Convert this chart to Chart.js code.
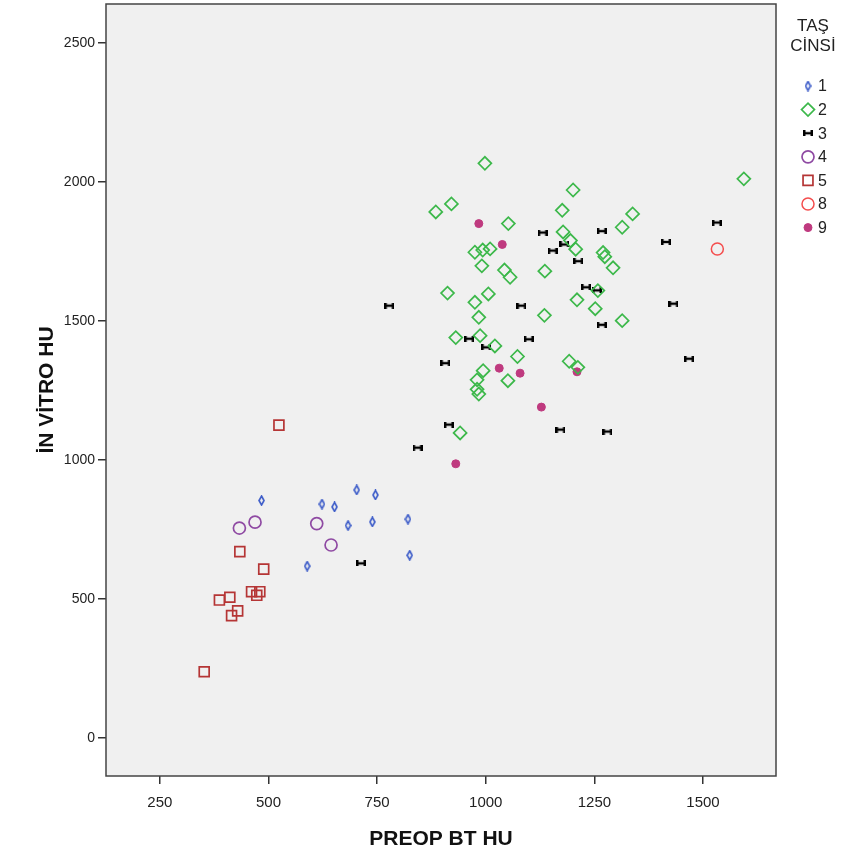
<!DOCTYPE html>
<html>
<head>
<meta charset="utf-8">
<script src="https://cdn.jsdelivr.net/npm/chart.js@4.4.1/dist/chart.umd.min.js"></script>
<style>
  html, body { margin: 0; background: #fff; }
  #wrap { width: 847px; height: 862px; }
</style>
</head>
<body>
<div id="wrap"><canvas id="c"></canvas></div>
<script>
// TAŞ CİNSİ groups
const groupLabels = ['1', '2', '3', '4', '5', '8', '9'];
const xTicks = [250, 500, 750, 1000, 1250, 1500];
const yTicks = [0, 500, 1000, 1500, 2000, 2500];

const g1x = [484, 623, 652, 703, 746, 683, 739, 821, 825, 589];
const g1y = [854, 841, 831, 892, 874, 764, 777, 787, 657, 618];

const g2x = [998, 885, 921, 1201, 1594, 1176, 1338, 1314, 1052, 1178, 1195, 1207, 975, 993, 1010,
             991, 1270, 1274, 1293, 1043, 1056, 1136, 912, 1006, 975, 984, 1135, 1210, 1252, 1258,
             1314, 931, 987, 1021, 1073, 994, 980, 980, 984, 1051, 1192, 1212, 941];
const g2y = [2067, 1892, 1921, 1971, 2011, 1898, 1885, 1837, 1850, 1820, 1789, 1758, 1747, 1755, 1759,
             1698, 1746, 1731, 1691, 1683, 1657, 1679, 1600, 1597, 1567, 1513, 1520, 1576, 1544, 1609,
             1501, 1440, 1447, 1410, 1372, 1321, 1288, 1254, 1237, 1285, 1355, 1333, 1097];

const g3x = [1131, 1267, 1532, 1415, 1154, 1181, 1213, 1231, 1256, 1432, 1082, 1267, 962, 1001, 1099,
             907, 1468, 915, 1172, 1280, 843, 778, 713];
const g3y = [1818, 1823, 1854, 1784, 1753, 1775, 1715, 1621, 1610, 1562, 1555, 1486, 1436, 1405, 1434,
             1348, 1364, 1127, 1109, 1102, 1044, 1555, 628];

const g4x = [433, 469, 611, 644];
const g4y = [755, 776, 771, 694];

const g5x = [434, 489, 461, 480, 473, 411, 387, 429, 415, 352, 524];
const g5y = [670, 607, 526, 526, 513, 506, 496, 457, 440, 238, 1125];

const g8x = [1533];
const g8y = [1759];

const g9x = [984, 1038, 1031, 1079, 1210, 1128, 931];
const g9y = [1850, 1775, 1330, 1312, 1317, 1190, 986];

function pts(xs, ys) { return xs.map((x, i) => ({ x: x, y: ys[i] })); }

// thin vertical diamond for group 1
function thinDiamond(color) {
  const cv = document.createElement('canvas');
  cv.width = 7; cv.height = 11;
  const c = cv.getContext('2d');
  c.strokeStyle = color; c.lineWidth = 1.6;
  c.beginPath();
  c.moveTo(3.5, 1); c.lineTo(6, 5.5); c.lineTo(3.5, 10); c.lineTo(1, 5.5); c.closePath();
  c.stroke();
  return cv;
}
// dumbbell marker for group 3
function bowtie(color) {
  const cv = document.createElement('canvas');
  cv.width = 10; cv.height = 6;
  const c = cv.getContext('2d');
  c.fillStyle = color;
  c.fillRect(0, 0, 2.5, 6);
  c.fillRect(7.5, 0, 2.5, 6);
  c.fillRect(2, 1.8, 6, 2.4);
  return cv;
}

const colors = ['#3a5ac8', '#3cb84a', '#000000', '#8f4aa3', '#b53535', '#f44d4d', '#bf3a7f'];

const datasets = [
  { label: groupLabels[0], data: pts(g1x, g1y), pointStyle: thinDiamond(colors[0]), pointRadius: 5,
    borderColor: colors[0], backgroundColor: colors[0] },
  { label: groupLabels[1], data: pts(g2x, g2y), pointStyle: 'rectRot', pointRadius: 6.5, borderWidth: 1.7,
    borderColor: colors[1], backgroundColor: 'rgba(0,0,0,0)' },
  { label: groupLabels[2], data: pts(g3x, g3y), pointStyle: bowtie(colors[2]), pointRadius: 5,
    borderColor: colors[2], backgroundColor: colors[2] },
  { label: groupLabels[3], data: pts(g4x, g4y), pointStyle: 'circle', pointRadius: 6, borderWidth: 1.7,
    borderColor: colors[3], backgroundColor: 'rgba(0,0,0,0)' },
  { label: groupLabels[4], data: pts(g5x, g5y), pointStyle: 'rect', pointRadius: 7, borderWidth: 1.7,
    borderColor: colors[4], backgroundColor: 'rgba(0,0,0,0)' },
  { label: groupLabels[5], data: pts(g8x, g8y), pointStyle: 'circle', pointRadius: 6, borderWidth: 1.5,
    borderColor: colors[5], backgroundColor: 'rgba(0,0,0,0)' },
  { label: groupLabels[6], data: pts(g9x, g9y), pointStyle: 'circle', pointRadius: 4, borderWidth: 1,
    borderColor: colors[6], backgroundColor: colors[6] }
];

const plotFrame = {
  id: 'plotFrame',
  beforeDatasetsDraw(chart) {
    const { ctx, chartArea: a } = chart;
    ctx.save();
    ctx.fillStyle = '#f0f0f0';
    ctx.fillRect(a.left, a.top, a.right - a.left, a.bottom - a.top);
    ctx.restore();
  },
  afterDraw(chart) {
    const { ctx, chartArea: a } = chart;
    ctx.save();
    ctx.strokeStyle = '#444';
    ctx.lineWidth = 1.5;
    ctx.strokeRect(a.left, a.top, a.right - a.left, a.bottom - a.top);
    ctx.restore();
  }
};

const sideLegend = {
  id: 'sideLegend',
  afterDraw(chart) {
    const ctx = chart.ctx;
    ctx.save();
    ctx.fillStyle = '#222';
    ctx.textAlign = 'center';
    ctx.textBaseline = 'middle';
    ctx.font = '17px "Liberation Sans", Arial, sans-serif';
    ctx.fillText('TAŞ', 813, 26);
    ctx.fillText('CİNSİ', 813, 46);
    ctx.textAlign = 'left';
    ctx.font = '16px "Liberation Sans", Arial, sans-serif';
    chart.data.datasets.forEach((ds, i) => {
      const y = 86 + i * 23.6;
      ctx.strokeStyle = ds.borderColor;
      ctx.fillStyle = ds.backgroundColor;
      ctx.lineWidth = ds.borderWidth || 1;
      Chart.helpers.drawPoint(ctx, { pointStyle: ds.pointStyle, radius: ds.pointRadius, borderWidth: ds.borderWidth || 1, rotation: 0 }, 808, y);
      ctx.fillStyle = '#222';
      ctx.fillText(ds.label, 818, y + 1);
    });
    ctx.restore();
  }
};

new Chart(document.getElementById('c'), {
  type: 'scatter',
  data: { datasets: datasets },
  plugins: [plotFrame, sideLegend],
  options: {
    responsive: true,
    maintainAspectRatio: false,
    animation: false,
    events: [],
    layout: { autoPadding: false, padding: { top: 4, right: 71, left: 0, bottom: 0 } },
    plugins: { legend: { display: false }, tooltip: { enabled: false } },
    scales: {
      x: {
        type: 'linear',
        min: 126, max: 1668,
        afterBuildTicks(s) { s.ticks = xTicks.map(v => ({ value: v })); },
        afterFit(s) { s.height = 86; s.paddingLeft = 0; s.paddingRight = 0; },
        border: { display: false },
        grid: { drawOnChartArea: false, drawTicks: true, tickLength: 8, color: '#333', lineWidth: 1.5 },
        ticks: { color: '#222', padding: 10, maxRotation: 0, callback: v => String(v),
                 font: { family: '"Liberation Sans Narrow", "Liberation Sans", Arial', size: 15 } },
        title: { display: true, text: 'PREOP BT HU', color: '#111', padding: { bottom: 10 },
                 font: { family: '"Liberation Sans", Arial', size: 21, weight: 'bold' } }
      },
      y: {
        type: 'linear',
        min: -137, max: 2640,
        afterBuildTicks(s) { s.ticks = yTicks.map(v => ({ value: v })); },
        afterFit(s) { s.width = 106; s.paddingTop = 0; s.paddingBottom = 0; },
        border: { display: false },
        grid: { drawOnChartArea: false, drawTicks: true, tickLength: 8, color: '#333', lineWidth: 1.5 },
        ticks: { color: '#222', padding: 3, callback: v => String(v),
                 font: { family: '"Liberation Sans", Arial', size: 14 } },
        title: { display: true, text: 'İN VİTRO HU', color: '#111', padding: { top: 35 },
                 font: { family: '"Liberation Sans", Arial', size: 21, weight: 'bold' } }
      }
    }
  }
});
</script>
</body>
</html>
